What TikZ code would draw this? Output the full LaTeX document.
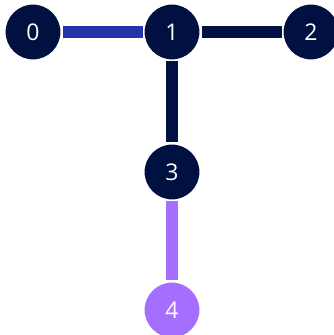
\documentclass[tikz,border=0pt]{standalone}
\usepackage{fontspec}
\setmainfont{Open Sans}
\definecolor{navy}{HTML}{001141}
\definecolor{eblue}{HTML}{2234A8}
\definecolor{epurple}{HTML}{A56EFF}
\begin{document}
\begin{tikzpicture}[x=1pt,y=1pt,
  qnode/.style={circle,minimum size=57pt,inner sep=0pt,draw=white,line width=2pt,fill=navy,text=white,font=\fontsize{23}{27}\selectfont},
  qedge/.style={line width=12pt}]
\useasboundingbox (0,0) rectangle (333,335);
\node[qnode] (n0) at (33,303) {0};
\node[qnode] (n1) at (172,303) {1};
\node[qnode] (n2) at (311,303) {2};
\node[qnode] (n3) at (172,163) {3};
\node[qnode,fill=epurple] (n4) at (172,25) {4};
\draw[qedge,eblue] (n0) -- (n1);
\draw[qedge,navy] (n1) -- (n2);
\draw[qedge,navy] (n1) -- (n3);
\draw[qedge,epurple] (n3) -- (n4);
\end{tikzpicture}
\end{document}
